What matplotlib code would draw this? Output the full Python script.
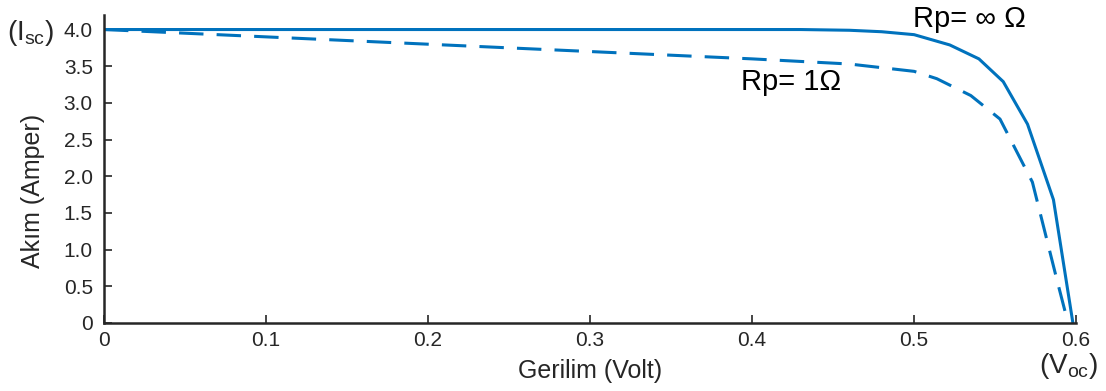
import numpy as np
import matplotlib
matplotlib.use("Agg")
import matplotlib.pyplot as plt

plt.rcParams['font.family'] = ['Liberation Sans', 'DejaVu Sans']
plt.rcParams['mathtext.fontset'] = 'custom'
plt.rcParams['mathtext.rm'] = 'Liberation Sans'

# I-V curve, ideal (Rp = inf)
v_ideal = [0.0, 0.43, 0.46, 0.48, 0.50, 0.522, 0.54, 0.555, 0.57, 0.586, 0.598]
i_ideal = [4.0, 4.0, 3.99, 3.97, 3.93, 3.79, 3.60, 3.29, 2.71, 1.68, 0.0]

# I-V curve with Rp = 1 ohm
v_rp1 = [0.0, 0.1, 0.2, 0.3, 0.4, 0.46, 0.50, 0.514, 0.535, 0.553, 0.573, 0.588, 0.595]
i_rp1 = [4.0, 3.9, 3.8, 3.7, 3.6, 3.53, 3.43, 3.33, 3.10, 2.78, 1.92, 0.60, 0.0]

xticks = [0, 0.1, 0.2, 0.3, 0.4, 0.5, 0.6]
xticklabels = ['0', '0.1', '0.2', '0.3', '0.4', '0.5', '0.6']
yticks = [0, 0.5, 1.0, 1.5, 2.0, 2.5, 3.0, 3.5, 4.0]
yticklabels = ['0', '0.5', '1.0', '1.5', '2.0', '2.5', '3.0', '3.5', '4.0']

blue = '#0072BD'
dark = '#262626'

fig = plt.figure(figsize=(11.06, 3.91), dpi=100)
ax = fig.add_axes([0.094, 0.174, 0.879, 0.788])

ax.plot(v_ideal, i_ideal, color=blue, lw=2.2, solid_joinstyle='miter')
ax.plot(v_rp1, i_rp1, color=blue, lw=2.2, dashes=(8, 4.3))

ax.set_xlim(0, 0.6)
ax.set_ylim(0, 4.2)
ax.set_xticks(xticks)
ax.set_xticklabels(xticklabels)
ax.set_yticks(yticks)
ax.set_yticklabels(yticklabels)

for s in ['top', 'right']:
    ax.spines[s].set_visible(False)
for s in ['left', 'bottom']:
    ax.spines[s].set_linewidth(1.8)
    ax.spines[s].set_color(dark)
ax.tick_params(direction='in', length=6, width=1.2, color=dark,
               labelsize=15, labelcolor=dark)
ax.tick_params(axis='x', pad=6)
ax.tick_params(axis='y', pad=8)

ax.set_xlabel('Gerilim (Volt)', fontsize=18, color=dark, labelpad=6)
ax.set_ylabel('Akım (Amper)', fontsize=18, color=dark)
ax.yaxis.set_label_coords(-0.061, 0.43)

ax.text(0.534, 4.15, 'Rp= \u221e \u03a9', fontsize=21, color='black',
        ha='center', va='center')
ax.text(0.424, 3.29, 'Rp= 1\u03a9', fontsize=21, color='black',
        ha='center', va='center')

fig.text(0.028, 1 - 33 / 391, r'(I$_{\mathrm{sc}}$)', fontsize=20, color=dark,
         ha='center', va='center')
fig.text(1068 / 1106, 1 - 366 / 391, r'(V$_{\mathrm{oc}}$)', fontsize=20,
         color=dark, ha='center', va='center')

fig.savefig('out.png', dpi=100)
